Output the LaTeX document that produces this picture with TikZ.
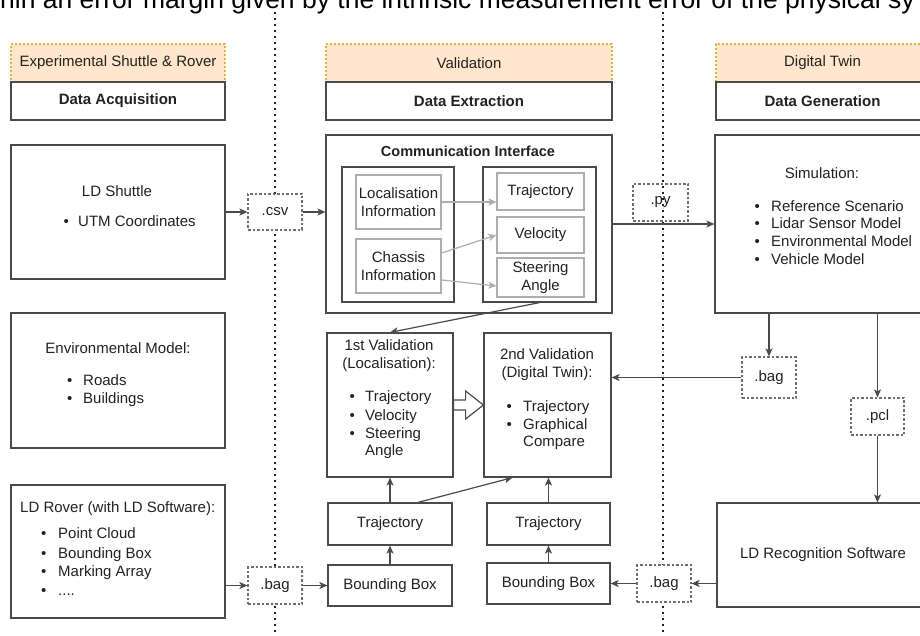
\documentclass[tikz,border=0pt]{standalone}
\usepackage{fontspec}
\setmainfont{Liberation Sans}
\usetikzlibrary{arrows.meta,calc}

\definecolor{ink}{HTML}{222222}
\definecolor{edge}{HTML}{4A4A4A}
\definecolor{soft}{HTML}{ADADAD}
\definecolor{hdrfill}{HTML}{FFE6CC}
\definecolor{hdredge}{HTML}{E2B244}

% box given by its corners (x1,y1)-(x2,y2), y growing downwards
\newcommand{\mkbox}[7][]{%
  \pgfmathsetmacro\mkW{#5-#3}\pgfmathsetmacro\mkH{#6-#4}%
  \pgfmathsetmacro\mkX{(#3+#5)/2}\pgfmathsetmacro\mkY{(#4+#6)/2}%
  \node[box,#1,minimum width=\mkW pt,minimum height=\mkH pt] (#2) at (\mkX,\mkY) {#7};}
% one bulleted line: bullet left edge, baseline, gap to text, text
\newcommand{\bulline}[4]{%
  \node[txt,anchor=base west] at (#1,#2) {\makebox[#3pt][l]{\textbullet}#4};}

\tikzset{
  txt/.style={inner sep=0pt,text=ink,font=\fontsize{15}{18}\selectfont},
  box/.style={draw=edge,line width=1.2pt,fill=white,inner sep=0pt,align=center,
              text=ink,font=\fontsize{15}{18.5}\selectfont},
  hdr/.style={fill=hdrfill,draw=hdredge,dash pattern=on 2pt off 2pt},
  filebox/.style={draw=edge!80,dash pattern=on 2.5pt off 2pt},
  clearfile/.style={filebox,fill=none},
  inner/.style={draw=soft},
  arr/.style={draw=edge,line width=1.2pt,-{Stealth[length=8pt,width=7pt,inset=2pt]}},
  softarr/.style={draw=soft,line width=1.2pt,-{Stealth[length=8pt,width=7pt,inset=2pt]}},
  plain/.style={draw=edge,line width=1.2pt},
  divider/.style={draw=ink,line width=1.7pt,dash pattern=on 1.7pt off 4.3pt},
}

\begin{document}
\begin{tikzpicture}[x=1pt,y=-1pt]
\useasboundingbox (0,0) rectangle (920,636);
\clip (0,0) rectangle (920,636);

% running text above the figure
\node[anchor=base west,inner sep=0pt,text=black,font=\fontsize{26.5}{30}\selectfont]
  (runin) at (0,9) {hin an error margin given by the intrinsic measurement error of the physical sy};

% column dividers
\coordinate (divLtop) at (275,12); \coordinate (divLbot) at (275,636);
\coordinate (divRtop) at (663,12); \coordinate (divRbot) at (663,636);
\draw[divider] (divLtop) -- (divLbot);
\draw[divider] (divRtop) -- (divRbot);

% column headers
\mkbox[hdr]{hdrL}{11}{44}{225}{82}{Experimental Shuttle \& Rover}
\mkbox{acq}{11}{82}{225}{120}{\textbf{Data Acquisition}}
\mkbox[hdr]{hdrM}{326}{44}{612}{82}{Validation}
\mkbox{ext}{326}{82}{612}{120}{\textbf{Data Extraction}}
\mkbox[hdr]{hdrR}{716}{44}{929}{82}{Digital Twin}
\mkbox{gen}{716}{82}{929}{120}{\textbf{Data Generation}}

% data acquisition column
\mkbox{shuttle}{11}{145}{225}{279}{}
\node[txt,anchor=base] at (117,197) {LD Shuttle};
\bulline{63.5}{227}{14.5}{UTM Coordinates}

\mkbox{env}{11}{313}{225}{448}{}
\node[txt,anchor=base] at (118,353) {Environmental Model:};
\bulline{67}{385}{16}{Roads}
\bulline{67}{403}{16}{Buildings}

\mkbox{rover}{11}{485}{225}{618}{}
\node[txt,anchor=base west] at (20,512) {LD Rover (with LD Software):};
\bulline{41}{538}{17}{Point Cloud}
\bulline{41}{558}{17}{Bounding Box}
\bulline{41}{576}{17}{Marking Array}
\bulline{41}{595}{17}{....}

% exchanged files
\mkbox[filebox]{csv}{248}{194}{302}{230}{.csv}
\mkbox[filebox]{bagL}{248}{567}{302}{604}{.bag}
\mkbox[clearfile]{py}{633}{184}{688}{221}{.py}
\mkbox[filebox]{bagM}{742}{357}{796}{398}{.bag}
\mkbox[filebox]{pcl}{851}{398}{904}{435}{.pcl}
\mkbox[filebox]{bagR}{637}{565}{691}{602}{.bag}

% communication interface
\mkbox{comm}{326}{135}{612}{313}{}
\node[txt,anchor=base,font=\fontsize{14.5}{18}\selectfont] (commtitle) at (468,157) {\textbf{Communication Interface}};
\mkbox{lgrp}{342}{167}{454}{302}{}
\mkbox[inner]{loc}{356}{175}{441}{229}{Localisation\\Information}
\mkbox[inner]{chas}{356}{239}{441}{293}{Chassis\\Information}
\mkbox{rgrp}{483}{167}{596}{302}{}
\mkbox[inner]{traj}{497}{173}{584}{210}{Trajectory}
\mkbox[inner]{vel}{497}{217}{584}{253}{Velocity}
\mkbox[inner]{steer}{497}{258}{584}{297}{Steering\\Angle}

% validation stages
\mkbox{val1}{327}{333}{453}{477}{}
\node[txt,anchor=base] at (389,350) {1st Validation};
\node[txt,anchor=base] at (389,368) {(Localisation):};
\bulline{349.5}{401}{15.5}{Trajectory}
\bulline{349.5}{420}{15.5}{Velocity}
\bulline{349.5}{438}{15.5}{Steering}
\node[txt,anchor=base west] at (365,455) {Angle};

\mkbox{val2}{484}{333}{611}{477}{}
\node[txt,anchor=base] at (547,359) {2nd Validation};
\node[txt,anchor=base] at (547,377) {(Digital Twin):};
\bulline{506.5}{411}{16.5}{Trajectory}
\bulline{506.5}{429}{16.5}{Graphical}
\node[txt,anchor=base west] at (523,446) {Compare};

\mkbox{trajL}{328}{503}{452}{545}{Trajectory}
\mkbox{bbL}{328}{565}{452}{606}{Bounding Box}
\mkbox{trajR}{487}{503}{610}{545}{Trajectory}
\mkbox{bbR}{487}{563}{610}{604}{Bounding Box}

% digital twin column
\mkbox{sim}{715}{135}{929}{313}{}
\node[txt,anchor=base] at (822,179) {Simulation:};
\bulline{754.5}{212}{16.5}{Reference Scenario}
\bulline{754.5}{229}{16.5}{Lidar Sensor Model}
\bulline{754.5}{247}{16.5}{Environmental Model}
\bulline{754.5}{264}{16.5}{Vehicle Model}

\mkbox{rec}{717}{503}{929}{607}{LD Recognition Software}

% hollow arrow between the two validations
\draw[draw=edge,line width=1.2pt,fill=white,line join=miter]
  ($(val1.east)+(0,-5)$) -- ++(12,0) -- ++(0,-9) -- ($(val2.west)$)
  -- ($(val1.east)+(12,14)$) -- ++(0,-9) -- ($(val1.east)+(0,5)$) -- cycle;

% connectors
\draw[arr] (shuttle.east) -- (csv.west);
\draw[arr] (csv.east) -- (csv.east -| comm.west);
\draw[softarr] (loc.east) -- (loc.east -| traj.west);
\draw[softarr] ($(chas.east)+(0,-13)$) -- (vel.west);
\draw[softarr] ($(chas.east)+(0,14)$) -- ($(steer.west)+(0,8.5)$);
\draw[arr] (comm.east) -- (sim.west);
\draw[arr] (rgrp.south) -- (val1.north);
\draw[arr] (sim.south -| bagM.north) -- (bagM.north);
\draw[arr] (sim.south -| pcl.north) -- (pcl.north);
\draw[arr] (pcl.south) -- (pcl.south |- rec.north);
\draw[arr] (bagM.west) -- (bagM.west -| val2.east);
\draw[arr] (rover.east |- bagL.west) -- (bagL.west);
\draw[arr] (bagL.east) -- (bbL.west);
\draw[arr] (bbL.north) -- (trajL.south);
\draw[arr] (trajL.north) -- (trajL.north |- val1.south);
\draw[arr] ($(trajL.north)+(28,0)$) -- ($(val2.south)+(-35,0)$);
\draw[arr] (rec.west |- bagR.east) -- (bagR.east);
\draw[arr] (bagR.west) -- (bbR.east);
\draw[arr] (bbR.north) -- (trajR.south);
\draw[arr] (trajR.north) -- (trajR.north |- val2.south);
\end{tikzpicture}
\end{document}
